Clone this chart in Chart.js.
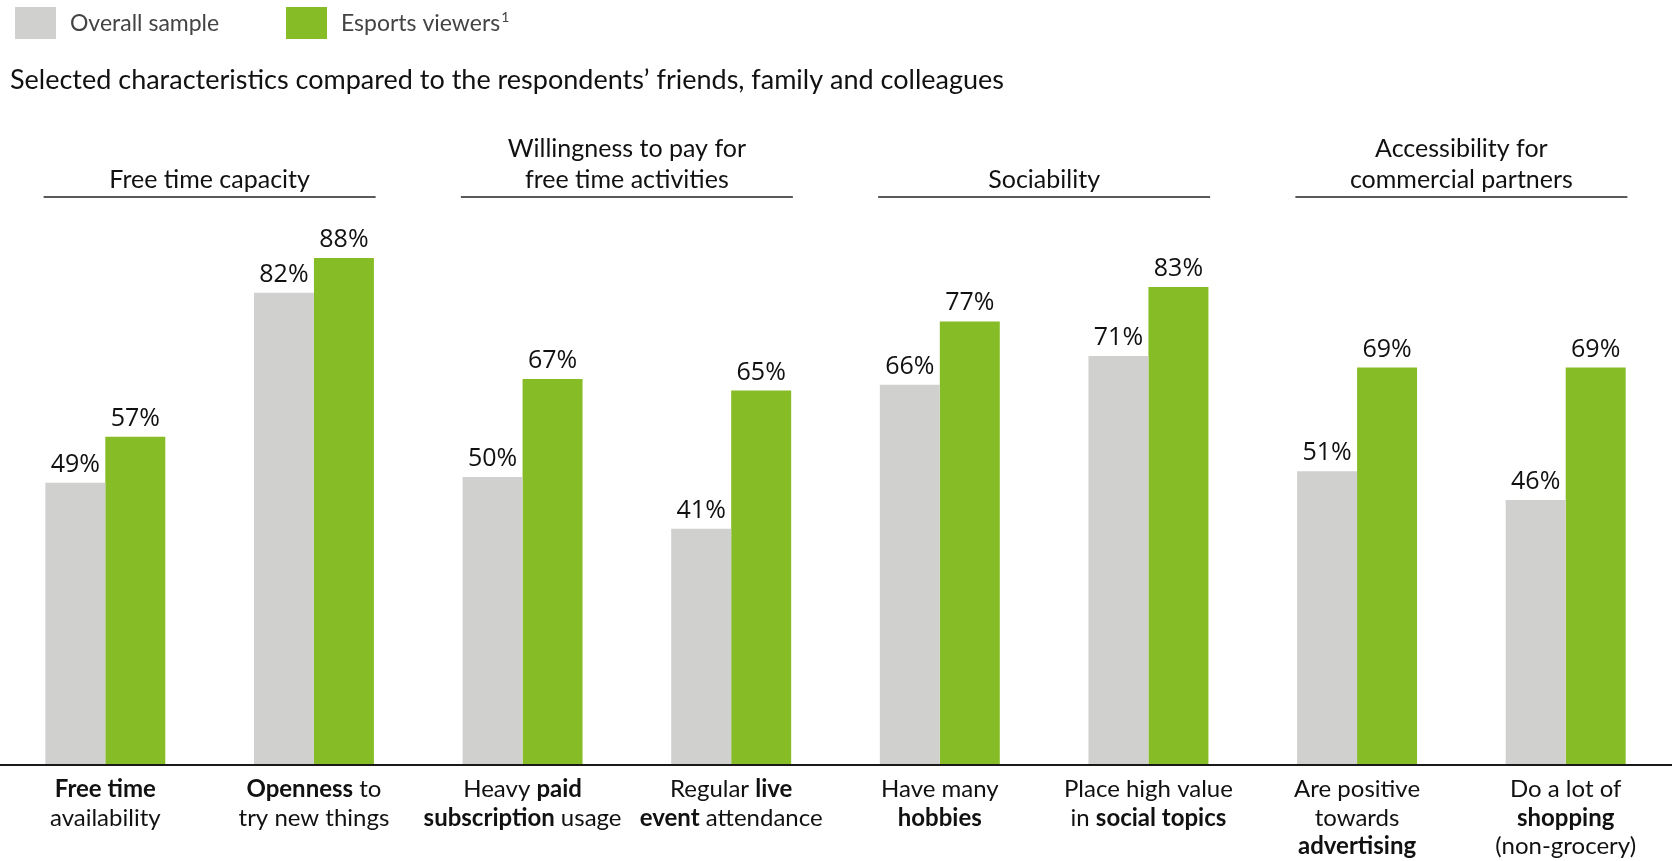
<!DOCTYPE html>
<html>
<head>
<meta charset="utf-8">
<script src="https://cdn.jsdelivr.net/npm/chart.js@4/dist/chart.umd.min.js"></script>
<style>
  body { margin: 0; background: #fff; }
  canvas { display: block; }
</style>
</head>
<body>
<canvas id="grafica" width="1672" height="861"></canvas>
<script>
// categories: each line of the label, *text* = bold
const categories = [
    ["*Free time*", "availability"],
    ["*Openness* to", "try new things"],
    ["Heavy *paid*", "*subscription* usage"],
    ["Regular *live*", "*event* attendance"],
    ["Have many", "*hobbies*"],
    ["Place high value", "in *social topics*"],
    ["Are positive", "towards", "*advertising*"],
    ["Do a lot of", "*shopping*", "(non-grocery)"]
];
const overallSample = [49, 82, 50, 41, 66, 71, 51, 46];
const esportsViewers = [57, 88, 67, 65, 77, 83, 69, 69];
const groupTitles = [
    ["Free time capacity"],
    ["Willingness to pay for", "free time activities"],
    ["Sociability"],
    ["Accessibility for", "commercial partners"]
];
const seriesNames = ["Overall sample", "Esports viewers"];
const subtitle = "Selected characteristics compared to the respondents\u2019 friends, family and colleagues";

const GRIS = "#D0D0CE";
const VERDE = "#86BC25";
const FUENTE = "Lato, 'Open Sans', sans-serif";

// dibuja una linea con partes en negrita, centrada en x
function textoMixto(ctx, linea, x, y, size) {
    const partes = linea.split("*").map((t, i) => ({ t: t, bold: i % 2 === 1 })).filter(p => p.t.length);
    let total = 0;
    partes.forEach(p => {
        ctx.font = (p.bold ? "bold " : "") + size + "px " + FUENTE;
        p.w = ctx.measureText(p.t).width;
        total += p.w;
    });
    let cx = x - total / 2;
    ctx.textAlign = "left";
    partes.forEach(p => {
        ctx.font = (p.bold ? "bold " : "") + size + "px " + FUENTE;
        ctx.fillText(p.t, cx, y);
        cx += p.w;
    });
}

const decoracion = {
    id: "decoracion",
    afterDatasetsDraw(chart) {
        const ctx = chart.ctx;
        const xs = chart.scales.x;
        const area = chart.chartArea;
        ctx.save();
        ctx.textBaseline = "alphabetic";

        // leyenda
        const colores = [GRIS, VERDE];
        const legX = [15, 286];
        seriesNames.forEach((n, i) => {
            ctx.fillStyle = colores[i];
            ctx.fillRect(legX[i], 7, 41, 32);
            ctx.fillStyle = "#444";
            ctx.font = "23px " + FUENTE;
            ctx.textAlign = "left";
            ctx.fillText(n, legX[i] + 55, 31);
            if (i === 1) {
                const w = ctx.measureText(n).width;
                ctx.font = "14px " + FUENTE;
                ctx.fillText("1", legX[i] + 56 + w, 22);
            }
        });

        // subtitulo
        ctx.fillStyle = "#111";
        ctx.font = "27px " + FUENTE;
        ctx.textAlign = "left";
        ctx.fillText(subtitle, 10, 89);

        // encabezados de grupo con linea
        groupTitles.forEach((g, i) => {
            const c = (xs.getPixelForValue(i * 2) + xs.getPixelForValue(i * 2 + 1)) / 2;
            ctx.strokeStyle = "#5a5a5a";
            ctx.lineWidth = 2;
            ctx.beginPath();
            ctx.moveTo(c - 166, 197);
            ctx.lineTo(c + 166, 197);
            ctx.stroke();
            ctx.fillStyle = "#111";
            ctx.font = "25px " + FUENTE;
            ctx.textAlign = "center";
            g.forEach((l, j) => {
                ctx.fillText(l, c, 188 - (g.length - 1 - j) * 31);
            });
        });

        // eje
        ctx.strokeStyle = "#1a1a1a";
        ctx.lineWidth = 2;
        ctx.beginPath();
        ctx.moveTo(0, area.bottom);
        ctx.lineTo(chart.width, area.bottom);
        ctx.stroke();

        // etiquetas de categoria
        ctx.fillStyle = "#111";
        categories.forEach((lineas, i) => {
            const x = xs.getPixelForValue(i);
            lineas.forEach((l, j) => textoMixto(ctx, l, x, 797 + j * 28.5, 24));
        });

        // valores sobre las barras
        ctx.font = "25px 'Open Sans', sans-serif";
        ctx.textAlign = "center";
        ctx.fillStyle = "#111";
        chart.data.datasets.forEach((ds, di) => {
            chart.getDatasetMeta(di).data.forEach((bar, i) => {
                ctx.fillText(ds.data[i] + "%", bar.x, bar.y - 11);
            });
        });
        ctx.restore();
    }
};

new Chart(document.getElementById("grafica").getContext("2d"), {
    type: "bar",
    data: {
        labels: categories.map(c => c.join(" ").replace(/\*/g, "")),
        datasets: [
            { label: seriesNames[0], data: overallSample, backgroundColor: GRIS },
            { label: seriesNames[1], data: esportsViewers, backgroundColor: VERDE }
        ]
    },
    options: {
        responsive: false,
        animation: false,
        layout: { padding: { top: 189, bottom: 96, left: 1, right: 2 } },
        datasets: { bar: { barPercentage: 1, categoryPercentage: 0.575 } },
        scales: {
            x: { display: false },
            y: { display: false, min: 0, max: 100 }
        },
        plugins: {
            legend: { display: false },
            tooltip: { enabled: false }
        }
    },
    plugins: [decoracion]
});
</script>
</body>
</html>
